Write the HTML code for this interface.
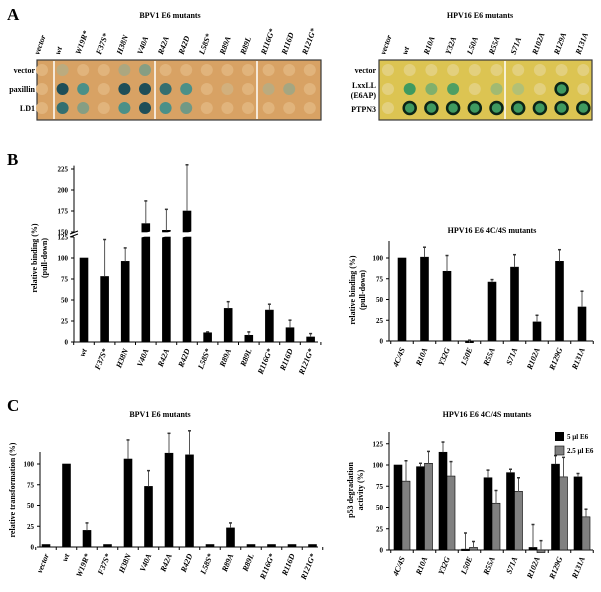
<!DOCTYPE html>
<html><head><meta charset="utf-8">
<style>
html,body{margin:0;padding:0;background:#fff;}
svg{display:block;font-family:"Liberation Serif",serif;font-weight:bold;}
</style></head>
<body>
<svg id="fig" width="601" height="592" viewBox="0 0 601 592" xmlns="http://www.w3.org/2000/svg">
<text x="7" y="20" font-size="17">A</text>
<text x="7" y="165" font-size="17">B</text>
<text x="7" y="411" font-size="17">C</text>
<text x="170" y="18" font-size="8" text-anchor="middle">BPV1 E6 mutants</text>
<text x="480" y="18" font-size="8" text-anchor="middle">HPV16 E6 mutants</text>
<text x="492" y="233" font-size="8" text-anchor="middle">HPV16 E6 4C/4S mutants</text>
<text x="160" y="417" font-size="8" text-anchor="middle">BPV1 E6 mutants</text>
<text x="487" y="417" font-size="8" text-anchor="middle">HPV16 E6 4C/4S mutants</text>
<g id="layer"></g>
</svg>
<script>
// ---------- data ----------
const aLeftCols = ["vector","wt","W19R*","F37S*","H38N","V40A","R42A","R42D","L58S*","R89A","R89L","R116G*","R116D","R121G*"];
const aLeftRows = ["vector","paxillin","LD1"];
const aLeftVector = [0,0.5,0,0,0.7,1.2,0,0,0,0,0,0,0,0];
const aLeftPaxillin = [0,3,2,0,3,3,2.5,2,0,0.2,0,0.5,0.8,0];
const aLeftLD1 = [0,2.5,1.2,0,2,3,2,1.5,0,0,0,0,0,0];
const aRightCols = ["vector","wt","R10A","Y32A","L50A","R55A","S71A","R102A","R129A","R131A"];
const aRightVector = [0,0,0,0,0,0,0,0,0,0];
const aRightLxxLL = [0,2,1.2,1.8,0,0.8,0.6,0,3,0];
const aRightPTPN3 = [0,3,3,3,3,3,3,3,3,3];

const bLeftCats = ["wt","F37S*","H38N","V40A","R42A","R42D","L58S*","R89A","R89L","R116G*","R116D","R121G*"];
const bLeftVals = [100,78,96,160,152,175,11,40,8,38,17,6];
const bLeftErr = [100,122,112,187,177,230,12,48,12,45,26,10];
const bLeftTicksLow = [0,25,50,75,100,125];
const bLeftTicksHigh = [150,175,200,225];

const bRightCats = ["4C/4S","R10A","Y32G","L50E","R55A","S71A","R102A","R129G","R131A"];
const bRightVals = [100,101,84,-2,71,89,23,96,41];
const bRightErr = [100,113,103,1,74,104,31,110,60];
const bRightTicks = [0,25,50,75,100];

const cLeftCats = ["vector","wt","W19R*","F37S*","H38N","V40A","R42A","R42D","L58S*","R89A","R89L","R116G*","R116D","R121G*"];
const cLeftVals = [3,100,20,3,106,73,113,111,3,23,3,3,3,3];
const cLeftErr = [3,100,29,3,129,92,137,140,3,29,3,3,3,3];
const cLeftTicks = [0,25,50,75,100];

const cRightCats = ["4C/4S","R10A","Y32G","L50E","R55A","S71A","R102A","R129G","R131A"];
const cRight5 = [100,98,115,1,85,91,3,101,86];
const cRight5Err = [100,102,127,20,94,95,30,111,90];
const cRight25 = [81,102,87,3,55,69,-3,86,39];
const cRight25Err = [105,116,104,10,70,85,11,109,48];
const cRightTicks = [0,25,50,75,100,125];

// ---------- helpers ----------
const NS="http://www.w3.org/2000/svg";
const L=document.getElementById('layer');
function mk(tag,at){const e=document.createElementNS(NS,tag);for(const k in at)e.setAttribute(k,at[k]);L.appendChild(e);return e;}
function txt(x,y,s,size,anchor,extra){const e=mk('text',Object.assign({x:x,y:y,'font-size':size,'text-anchor':anchor||'start'},extra||{}));e.textContent=s;return e;}
function rotLabel(x,y,s,anchor,ang){const e=txt(x,y,s,8,anchor,{'font-style':'italic',transform:`rotate(${ang} ${x} ${y})`});return e;}
function mix(a,b,t){const p=h=>[1,3,5].map(i=>parseInt(h.substr(i,2),16));const A=p(a),B=p(b);return 'rgb('+A.map((v,i)=>Math.round(v+(B[i]-v)*t)).join(',')+')';}

// ---------- panel A ----------
function blot(x0,x1,y0,y1,bg,cols,rows,rowYs,xStart,xStep,seps,pale,mid,dark,ringMode,namePre){
  let r=mk('rect',{x:x0,y:y0,width:x1-x0,height:y1-y0,fill:bg,stroke:'#3a3a3a','stroke-width':1.2});
  
  
  seps.forEach(sx=>{const l=mk('line',{x1:sx,x2:sx,y1:y0+1,y2:y1-1,stroke:'#fff','stroke-width':1.5});
    
    });
  cols.forEach((c,i)=>{const x=xStart+i*xStep;
    const t=rotLabel(x-3,y0-5,c,'start',-70);
    
    
    rows.forEach((vals,ri)=>{const v=vals[i];const y=rowYs[ri];let fill,stroke='none';
      if(v<=0.05)fill=pale;else if(v<2)fill=mix(pale,mid,v/2);else fill=mix(mid,dark,(v-2));
      if(ringMode&&v>=2.5){stroke='#0b2416';fill=mid;}
      const c2=mk('circle',{cx:x,cy:y,r:6,fill:fill,stroke:stroke,'stroke-width':ringMode&&v>=2.5?2.5:0});
      
      });
  });
}
blot(37,321,60,120,'#d8a264',aLeftCols,[aLeftVector,aLeftPaxillin,aLeftLD1],[70,89,108],42,20.6,[54,155,257],'#e1b47c','#4a9088','#1e4e58',false,'a-left');
[["vector",73],["paxillin",92],["LD1",111]].forEach(r=>{const t=txt(35,r[1],r[0],8,'end');
  
  });
blot(379,592,60,120,'#dcc452',aRightCols,[aRightVector,aRightLxxLL,aRightPTPN3],[70,89,108],388,21.7,[505],'#e3d07e','#3f9a60','#1a4a30',true,'a-right');
[["vector",73,''],["LxxLL",88,''],["(E6AP)",98,''],["PTPN3",112,'']].forEach(r=>{const t=txt(376,r[1],r[0],8,'end');
  
  });

// ---------- bar chart helper ----------
function axisY(x,yTop,yBot){const l=mk('line',{x1:x,x2:x,y1:yTop,y2:yBot,stroke:'#000','stroke-width':1});}
function ticksY(x,ticks,yf,pre){ticks.forEach(t=>{mk('line',{x1:x-3,x2:x,y1:yf(t),y2:yf(t),stroke:'#000'});
  const e=txt(x-6,yf(t)+2.5,String(t),7,'end');});}
function xAxis(x0,x1,y,n,x0c,step,pre){const l=mk('line',{x1:x0,x2:x1,y1:y,y2:y,stroke:'#000','stroke-width':1});
  
  for(let i=0;i<=n;i++){const tx=x0c+(i-0.5)*step;mk('line',{x1:tx,x2:tx,y1:y,y2:y+3,stroke:'#000'});}}
function bar(cx,w,yv,y0,fill,pre){const t=Math.min(yv,y0),h=Math.max(1.5,Math.abs(yv-y0));
  const r=mk('rect',{x:cx-w/2,y:t,width:w,height:h,fill:fill,stroke:'#000','stroke-width':0.6});
  return r;}
function err(cx,yv,ye,pre){if(ye>=yv-0.5)return;const l=mk('line',{x1:cx,x2:cx,y1:yv,y2:ye,stroke:'#555','stroke-width':1});
  
  mk('line',{x1:cx-1.5,x2:cx+1.5,y1:ye,y2:ye,stroke:'#333','stroke-width':1.5});}
function xLabels(cats,x0c,step,y,pre){cats.forEach((c,i)=>{const x=x0c+i*step+3;const e=rotLabel(x,y+8,c,'end',-68);
  });}
function yTitle(x,yc,lines,pre){lines.forEach((s,i)=>{const xx=x+i*10;const e=txt(xx,yc,s,8,'middle',{transform:`rotate(-90 ${xx} ${yc})`});
  });}

// ---------- panel B left (broken axis) ----------
(function(){const ax=74,y0=342,k=0.84,pre='b-left';
  const yf=v=>v<=137?y0-v*k:232-(v-150)*k;
  mk('line',{x1:ax,x2:ax,y1:y0,y2:yf(125),stroke:'#000'});
  axisY(ax,yf(150),yf(229));
  ticksY(ax,bLeftTicksLow,yf,pre);ticksY(ax,bLeftTicksHigh,yf,pre);
  mk('path',{d:`M${ax-4},${yf(125)+0} l8,-3 M${ax-4},${yf(150)+2} l8,-3`,stroke:'#000',fill:'none'});
  xAxis(ax,318,y0,bLeftCats.length,84,20.6,pre);
  bLeftCats.forEach((c,i)=>{const cx=84+i*20.6;const v=bLeftVals[i];
    if(v>137){bar(cx,8,yf(125),y0,'#000',pre);bar(cx,8,yf(v),yf(150),'#000',pre);
      mk('path',{d:`M${cx-5},${yf(150)+3} l10,-3 M${cx-5},${yf(125)} l10,-3`,stroke:'#fff','stroke-width':1.3,fill:'none'});}
    else bar(cx,8,yf(v),y0,'#000',pre);
    err(cx,yf(v),yf(bLeftErr[i]),pre);});
  xLabels(bLeftCats,84,20.6,y0,pre);
  yTitle(37,258,["relative binding (%)","(pull-down)"],pre);
})();

// ---------- panel B right ----------
(function(){const ax=389,y0=341,k=0.83,pre='b-right';const yf=v=>y0-v*k;
  axisY(ax,241,y0);ticksY(ax,bRightTicks,yf,pre);
  xAxis(ax,593,y0,bRightCats.length,402,22.5,pre);
  bRightCats.forEach((c,i)=>{const cx=402+i*22.5;bar(cx,8,yf(bRightVals[i]),y0,'#000',pre);err(cx,yf(bRightVals[i]),yf(bRightErr[i]),pre);});
  xLabels(bRightCats,402,22.5,y0,pre);
  yTitle(355,290,["relative binding (%)","(pull-down)"],pre);
})();

// ---------- panel C left ----------
(function(){const ax=40,y0=547,k=0.83,pre='c-left';const yf=v=>y0-v*k;
  axisY(ax,452,y0);ticksY(ax,cLeftTicks,yf,pre);
  xAxis(ax,318,y0,cLeftCats.length,46,20.5,pre);
  cLeftCats.forEach((c,i)=>{const cx=46+i*20.5;bar(cx,8,yf(cLeftVals[i]),y0,'#000',pre);err(cx,yf(cLeftVals[i]),yf(cLeftErr[i]),pre);});
  xLabels(cLeftCats,46,20.5,y0,pre);
  yTitle(15,490,["relative transformation (%)"],pre);
})();

// ---------- panel C right ----------
(function(){const ax=389,y0=550,k=0.85,pre='c-right';const yf=v=>y0-v*k;
  axisY(ax,432,y0);ticksY(ax,cRightTicks,yf,pre);
  xAxis(ax,593,y0,cRightCats.length,402,22.5,pre);
  cRightCats.forEach((c,i)=>{const cx=402+i*22.5;
    bar(cx-4,8,yf(cRight5[i]),y0,'#000',pre+'-5ul');err(cx-4,yf(cRight5[i]),yf(cRight5Err[i]),pre);
    bar(cx+4,8,yf(cRight25[i]),y0,'#808080',pre+'-2-5ul');err(cx+4,Math.min(yf(cRight25[i]),y0),yf(cRight25Err[i]),pre);});
  xLabels(cRightCats,402,22.5,y0,pre);
  yTitle(353,490,["p53 degradation","activity (%)"],pre);
  const s1=mk('rect',{x:555,y:432,width:9,height:9,fill:'#000'});
  const s2=mk('rect',{x:555,y:446,width:9,height:9,fill:'#808080',stroke:'#000','stroke-width':0.6});
  const t1=txt(567,439,"5 \u00b5l E6",7,'start');
  const t2=txt(567,453,"2.5 \u00b5l E6",7,'start');
})();
</script>
</body></html>
